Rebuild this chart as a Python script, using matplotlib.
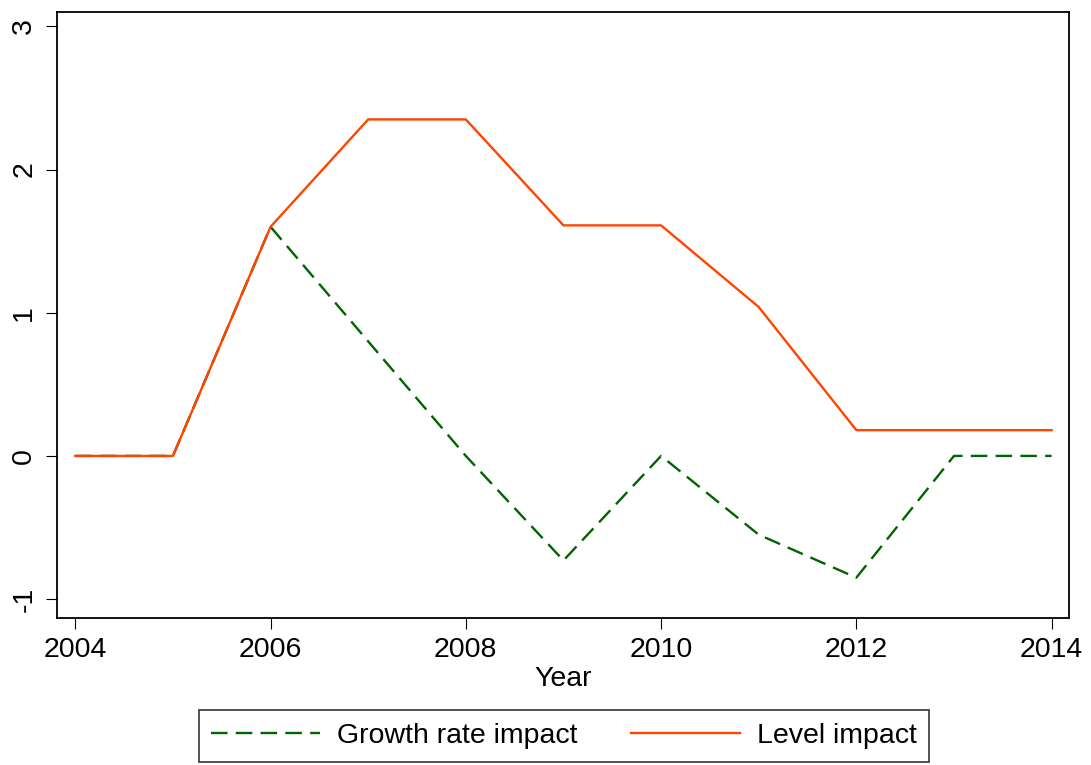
import numpy as np
import matplotlib
matplotlib.use("Agg")
import matplotlib.pyplot as plt

plt.rcParams['font.family'] = ['Liberation Sans', 'DejaVu Sans']

years = np.arange(2004, 2015)
growth_rate_impact = [0, 0, 1.6, 0.8, 0.0, -0.73, 0.0, -0.55, -0.85, 0, 0]
level_impact = [0, 0, 1.6, 2.35, 2.35, 1.61, 1.61, 1.04, 0.18, 0.18, 0.18]

fig = plt.figure(figsize=(10.91, 7.65), dpi=100)
ax = fig.add_axes([0.052, 0.1925, 0.928, 0.7918])

ax.plot(years, growth_rate_impact, color="#006400", linewidth=1.7,
        dashes=(7, 3.5), label="Growth rate impact")
ax.plot(years, level_impact, color="#FF4500", linewidth=1.7,
        label="Level impact")

ax.set_xlim(2003.81, 2014.18)
ax.set_ylim(-1.13, 3.10)
ax.set_xticks(range(2004, 2015, 2))
ax.set_yticks([-1, 0, 1, 2, 3])
ax.set_yticklabels(["-1", "0", "1", "2", "3"], rotation=90, va="center")

ax.tick_params(axis="both", direction="out", length=8, width=0.8,
               labelsize=20.5, colors="black")
ax.tick_params(axis="x", pad=6)
ax.tick_params(axis="y", pad=6)
for sp in ax.spines.values():
    sp.set_linewidth(1.3)
    sp.set_color("black")

ax.set_xlabel("Year", fontsize=20.5, labelpad=2)

leg = fig.legend(loc="center", bbox_to_anchor=(564 / 1091, 1 - 736 / 765),
                 ncol=2, fontsize=20.5, frameon=True, fancybox=False,
                 handlelength=3.8, handletextpad=0.6, columnspacing=1.9,
                 borderpad=0.45, borderaxespad=0)
leg.get_frame().set_edgecolor("black")
leg.get_frame().set_linewidth(1.2)

fig.savefig("out.png", dpi=100)
